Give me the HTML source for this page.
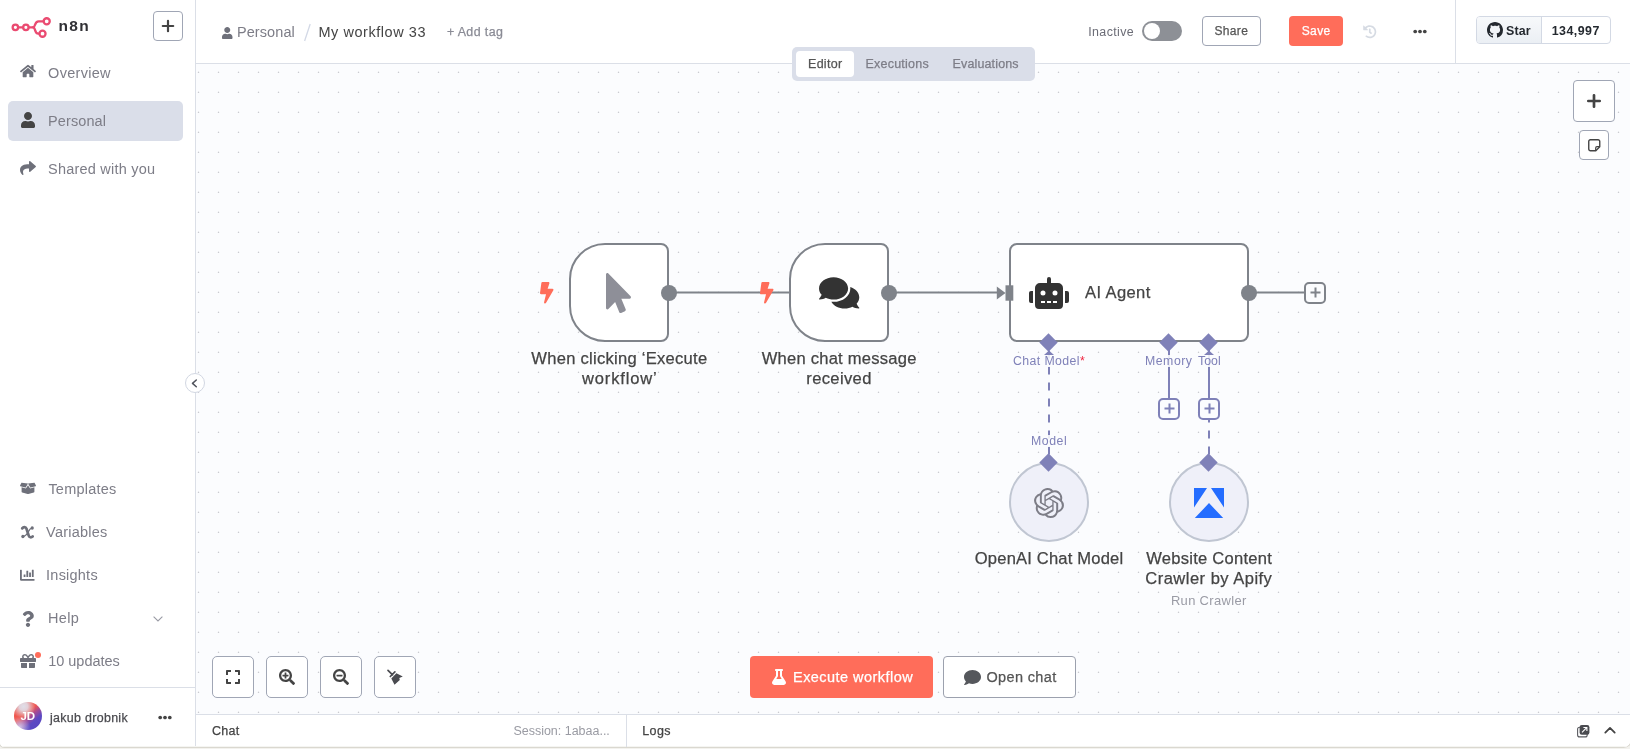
<!DOCTYPE html>
<html><head><meta charset="utf-8">
<style>
*{box-sizing:border-box;margin:0;padding:0}
html,body{width:1630px;height:749px;overflow:hidden;background:#f3f2ee;font-family:"Liberation Sans",sans-serif;}
.abs{position:absolute}
#root{position:absolute;left:0;top:0;width:1630px;height:749px;overflow:hidden;background:#f3f2ee}
#win{will-change:opacity;opacity:.9999;position:absolute;left:0;top:0;width:1630.600px;height:747px;background:#fff;border-radius:0 0 7.500px 4.500px;overflow:hidden;box-shadow:0 0 0 1px rgba(150,148,130,.27)}
#side{position:absolute;left:0;top:0;width:196px;height:747px;background:#fff;border-right:1px solid #dbdfe7}
#head{position:absolute;left:196px;top:0;width:1434px;height:64px;background:#fff;border-bottom:1px solid #dbdfe7}
#canvas{position:absolute;left:196px;top:64px;width:1434px;height:650px;background-color:#fbfcfe;}
#bot{position:absolute;left:196px;top:714px;width:1434px;height:33px;background:#fff;border-top:1px solid #dbdfe7}
.t{position:absolute;white-space:nowrap;line-height:1;}
svg{position:absolute;overflow:visible}

.plus{width:22px;height:22px;border:2px solid #7f81b8;border-radius:5px;background:#fbfcfe}
.dia{width:13px;height:13px;background:#7f81b8;transform:rotate(45deg)}
.lbl{font-size:12.3px;color:#7f81b8;background:rgba(251,252,254,.88)}
.lbl>*{} 
.circ{width:80px;height:80px;border-radius:50%;background:#eff0f9;border:2px solid #c0c6d2}
.cb{top:656px;width:42px;height:42px;border:1px solid #a0a6b5;border-radius:5px;background:#fff}
.m{-webkit-text-stroke:.25px currentColor}
.m2{-webkit-text-stroke:.25px currentColor}
</style></head><body>
<div id="root"><div id="win">
<div id="canvas"><svg style="left:0;top:0" width="1434" height="650"><defs><pattern id="dots" x="1" y="7" width="20" height="20" patternUnits="userSpaceOnUse"><rect x="1" y="0" width="1" height="1" fill="#e9eaee"/><rect x="1" y="1" width="1" height="1" fill="#cbccd2"/><rect x="0" y="1" width="3" height="1" fill="#c4c5cb" opacity=".12"/></pattern></defs><rect width="1434" height="650" fill="url(#dots)"/></svg></div>
<div id="side"></div>
<div id="head"></div>
<div id="bot"></div>

<!-- logo -->
<svg style="left:0;top:0" width="100" height="50" viewBox="0 0 100 50" fill="none" stroke="#ea4b71" stroke-width="2.3" stroke-linecap="round">
 <circle cx="15.4" cy="27.3" r="2.75"/><circle cx="25.9" cy="27.3" r="2.75"/>
 <path d="M18.3 27.3H23M28.8 27.3H33.2"/>
 <path d="M33.2 27.3C35.6 27.3 34.3 21.3 38.6 21.3H43.4"/>
 <path d="M33.2 27.3C35.6 27.3 34.3 33.7 38.2 33.7H39.2"/>
 <circle cx="46.7" cy="21.3" r="3.05"/><circle cx="42.5" cy="33.7" r="3.05"/>
</svg>
<div class="t" id="t_n8n" style="left:58.4px;top:18.4px;font-size:15.5px;font-weight:bold;color:#303035;letter-spacing:1.42px">n8n</div>
<div class="abs" style="left:153px;top:11px;width:30px;height:30px;border:1px solid #a0a6b5;border-radius:4px;background:#fff"></div>
<svg style="left:162px;top:20px" width="12" height="12" viewBox="0 0 12 12"><path d="M6 0.8V11.2M0.8 6H11.2" stroke="#444" stroke-width="2.2" stroke-linecap="round"/></svg>

<!-- overview -->
<svg style="left:20.2px;top:64px" width="16" height="14.2" viewBox="0 0 576 512"><path fill="#6e707a" d="M280.37 148.26L96 300.11V464a16 16 0 0 0 16 16l112.06-.29a16 16 0 0 0 15.92-16V368a16 16 0 0 1 16-16h64a16 16 0 0 1 16 16v95.64a16 16 0 0 0 16 16.05L464 480a16 16 0 0 0 16-16V300L295.67 148.26a12.19 12.19 0 0 0-15.3 0zM571.6 251.47L488 182.56V44.05a12 12 0 0 0-12-12h-56a12 12 0 0 0-12 12v72.61L318.47 43a48 48 0 0 0-61 0L4.34 251.47a12 12 0 0 0-1.6 16.9l25.5 31A12 12 0 0 0 45.15 301l235.22-193.74a12.19 12.19 0 0 1 15.3 0L530.9 301a12 12 0 0 0 16.9-1.6l25.5-31a12 12 0 0 0-1.7-16.93z"/></svg>
<div class="t" id="t_overview" style="left:48.1px;top:65.75px;font-size:14.49px;color:#7d7d87;letter-spacing:0.29px">Overview</div>

<!-- personal -->
<div class="abs" style="left:8px;top:101px;width:175px;height:40px;background:#dadee9;border-radius:5px"></div>
<svg style="left:21.4px;top:112.3px" width="14" height="16" viewBox="0 0 448 512"><path fill="#444" d="M224 256c70.7 0 128-57.3 128-128S294.7 0 224 0 96 57.3 96 128s57.300 128 128 128zm89.600 32h-16.700c-22.200 10.200-46.900 16-72.900 16s-50.600-5.800-72.900-16h-16.700C60.200 288 0 348.200 0 422.400V464c0 26.500 21.500 48 48 48h352c26.500 0 48-21.500 48-48v-41.600c0-74.200-60.200-134.400-134.400-134.400z"/></svg>
<div class="t" id="t_personal" style="left:48.1px;top:113.75px;font-size:14.49px;color:#7d7d87;letter-spacing:0.09px">Personal</div>

<!-- shared -->
<svg style="left:20px;top:160px" width="16" height="16" viewBox="0 0 512 512"><path fill="#6e707a" d="M503.691 189.836L327.687 37.851C312.281 24.546 288 35.347 288 56.015v80.053C127.371 137.907 0 170.100 0 322.326c0 61.441 39.581 122.309 83.333 154.132 13.653 9.931 33.111-2.533 28.077-18.631C66.066 312.814 132.917 274.316 288 272.085V360c0 20.700 24.300 31.453 39.687 18.164l176.004-152c11.071-9.562 11.086-26.753 0-36.328z"/></svg>
<div class="t" id="t_shared" style="left:48.1px;top:161.75px;font-size:14.49px;color:#7d7d87;letter-spacing:0.22px">Shared with you</div>

<!-- templates -->
<svg style="left:20.2px;top:481.7px" width="16" height="12.8" viewBox="0 0 640 512"><path fill="#6e707a" d="M425.700 256c-16.900 0-32.800-9-41.400-23.400L320 126l-64.200 106.600c-8.700 14.500-24.600 23.500-41.500 23.500-4.500 0-9-.6-13.300-1.900L64 215v178c0 14.700 10 27.500 24.200 31l216.200 54.100c10.200 2.500 20.900 2.500 31 0L551.800 424c14.200-3.600 24.200-16.400 24.200-31V215l-137 39.100c-4.300 1.300-8.800 1.900-13.300 1.900zm212.600-112.200L586.800 41c-3.100-6.200-9.800-9.800-16.700-8.900L320 64l91.700 152.100c3.800 6.300 11.400 9.300 18.500 7.300l197.900-56.500c9.900-2.900 14.700-13.900 10.200-23.100zM53.200 41L1.700 143.800c-4.600 9.200.3 20.200 10.100 23l197.900 56.500c7.100 2 14.700-1 18.500-7.300L320 64 69.800 32.100c-6.900-.8-13.500 2.700-16.600 8.900z"/></svg>
<div class="t" id="t_templates" style="left:48.4px;top:482.25px;font-size:14.49px;color:#7d7d87;letter-spacing:0.24px">Templates</div>

<!-- variables -->
<svg style="left:20.8px;top:526px" width="13" height="13" viewBox="0 0 13 13" fill="none" stroke="#6e707a" stroke-linecap="round"><path d="M1.2 2.4C2.4 0.7 4.7 0.6 5.500 2.800L7.700 9.700C8.300 11.600 10.300 11.700 11.700 10.500" stroke-width="2.700"/><path d="M10.800 2.200C9 2.400 8.200 4.200 7 6.300C5.600 8.800 4 10.400 2 10.500" stroke-width="1.300"/><circle cx="11.2" cy="2" r="1.650" fill="#6e707a" stroke="none"/><circle cx="1.9" cy="10.500" r="1.650" fill="#6e707a" stroke="none"/></svg>
<div class="t" id="t_variables" style="left:46.1px;top:525.25px;font-size:14.49px;color:#7d7d87;letter-spacing:0.22px">Variables</div>

<!-- insights -->
<svg style="left:19.8px;top:568px" width="14.6" height="14.6" viewBox="0 0 512 512"><path fill="#6e707a" d="M332.800 320h38.400c6.400 0 12.800-6.400 12.800-12.800V172.800c0-6.400-6.400-12.800-12.800-12.800h-38.400c-6.400 0-12.800 6.400-12.800 12.800v134.400c0 6.400 6.400 12.800 12.800 12.800zm96 0h38.400c6.400 0 12.800-6.400 12.800-12.800V76.800c0-6.400-6.400-12.800-12.800-12.800h-38.400c-6.400 0-12.800 6.400-12.800 12.800v230.400c0 6.400 6.400 12.800 12.800 12.800zm-288 0h38.400c6.400 0 12.800-6.400 12.800-12.800v-70.400c0-6.400-6.400-12.800-12.800-12.800h-38.400c-6.400 0-12.800 6.400-12.800 12.800v70.400c0 6.400 6.400 12.800 12.800 12.800zm96 0h38.400c6.400 0 12.800-6.400 12.800-12.800V108.800c0-6.400-6.400-12.800-12.800-12.800h-38.400c-6.400 0-12.800 6.400-12.800 12.800v198.400c0 6.400 6.400 12.800 12.800 12.800zM496 384H64V80c0-8.840-7.160-16-16-16H16C7.160 64 0 71.160 0 80v336c0 17.670 14.330 32 32 32h464c8.840 0 16-7.160 16-16v-32c0-8.840-7.160-16-16-16z"/></svg>
<div class="t" id="t_insights" style="left:46.1px;top:567.75px;font-size:14.49px;color:#7d7d87;letter-spacing:0.23px">Insights</div>

<!-- help -->
<svg style="left:22.2px;top:610.6px" width="12" height="16" viewBox="0 0 384 512"><path fill="#6e707a" d="M202.021 0C122.202 0 70.503 32.703 29.914 91.026c-7.363 10.580-5.093 25.086 5.178 32.874l43.138 32.709c10.373 7.865 25.132 6.026 33.253-4.148 25.049-31.381 43.630-49.449 82.757-49.449 30.764 0 68.816 19.799 68.816 49.631 0 22.552-18.617 34.134-48.993 51.164-35.423 19.860-82.299 44.576-82.299 106.405V320c0 13.255 10.745 24 24 24h72.471c13.255 0 24-10.745 24-24v-5.773c0-42.860 125.268-44.645 125.268-160.627C377.504 66.256 286.902 0 202.021 0zM192 373.459c-38.196 0-69.271 31.075-69.271 69.271 0 38.195 31.075 69.270 69.271 69.270s69.271-31.075 69.271-69.271-31.075-69.270-69.271-69.270z"/></svg>
<div class="t" id="t_help" style="left:48.1px;top:610.75px;font-size:14.49px;color:#7d7d87;letter-spacing:0.30px">Help</div>
<svg style="left:152.5px;top:615.5px" width="10" height="6" viewBox="0 0 10 6"><path d="M0.6 0.6L5 5L9.4 0.6" fill="none" stroke="#9a9ba5" stroke-width="1.1"/></svg>

<!-- updates -->
<svg style="left:20px;top:653.3px" width="16" height="16" viewBox="0 0 512 512"><path fill="#6e707a" d="M32 448c0 17.700 14.300 32 32 32h160V320H32v128zm256 32h160c17.700 0 32-14.300 32-32V320H288v160zm192-320h-42.100c6.200-12.100 10.100-25.500 10.100-40 0-48.500-39.500-88-88-88-41.600 0-68.500 21.300-103 68.300-34.500-47-61.400-68.300-103-68.300-48.500 0-88 39.500-88 88 0 14.500 3.800 27.900 10.100 40H32c-17.700 0-32 14.300-32 32v80c0 8.800 7.200 16 16 16h480c8.800 0 16-7.200 16-16v-80c0-17.700-14.300-32-32-32zm-326.100 0c-22.100 0-40-17.900-40-40s17.900-40 40-40c19.900 0 34.600 3.300 86.100 80h-86.100zm206.100 0h-86.100c51.400-76.500 65.700-80 86.100-80 22.100 0 40 17.900 40 40s-17.900 40-40 40z"/></svg>
<div class="abs" style="left:34.6px;top:652px;width:6px;height:6px;border-radius:50%;background:#ff6d5a"></div>
<div class="t" id="t_updates" style="left:48.2px;top:653.75px;font-size:14.49px;color:#7d7d87;letter-spacing:-0.01px">10 updates</div>

<!-- user -->
<div class="abs" style="left:0;top:687px;width:195px;height:1px;background:#dbdfe7"></div>
<div class="abs" style="left:14px;top:702px;width:28px;height:28px;border-radius:50%;background:
 radial-gradient(circle at 34% 16%,rgba(224,222,232,1) 0,rgba(224,222,232,.9) 14%,rgba(224,222,232,0) 40%),
 radial-gradient(circle at 20% 90%,rgba(214,204,236,.95) 0,rgba(214,204,236,0) 32%),
 linear-gradient(140deg,#f25a4e 0%,#f0564f 42%,#a34a96 56%,#5c49c3 70%,#5745bf 100%)"></div>
<div class="t" id="t_jd" style="left:20.4px;top:711.00px;font-size:11.5px;font-weight:bold;color:#fff">JD</div>
<div class="t m" id="t_user" style="left:49.9px;top:712.29px;font-size:12.42px;color:#4a4a4f;letter-spacing:0.33px">jakub drobnik</div>
<svg style="left:158px;top:714.5px" width="14" height="5" viewBox="0 0 14 5"><circle cx="2.2" cy="2.5" r="1.85" fill="#444"/><circle cx="7" cy="2.5" r="1.85" fill="#444"/><circle cx="11.8" cy="2.5" r="1.85" fill="#444"/></svg>

<!-- collapse -->
<div class="abs" style="left:185px;top:373px;width:20px;height:20px;border-radius:50%;background:#fff;border:1px solid #d2d7e2"></div>
<svg style="left:191px;top:378.5px" width="7" height="9" viewBox="0 0 7 9"><path d="M5.3 1L1.5 4.4L5.3 7.800" fill="none" stroke="#50535c" stroke-width="1.5" stroke-linecap="round" stroke-linejoin="round"/></svg>


<div class="abs" style="left:0;top:746px;width:1631px;height:1px;background:#f5f5f2"></div>
<!-- breadcrumbs -->
<svg style="left:221.7px;top:26.5px" width="10.5" height="12" viewBox="0 0 448 512"><path fill="#6e707a" d="M224 256c70.700 0 128-57.300 128-128S294.700 0 224 0 96 57.300 96 128s57.300 128 128 128zm89.600 32h-16.700c-22.200 10.200-46.900 16-72.900 16s-50.600-5.800-72.900-16h-16.700C60.200 288 0 348.200 0 422.400V464c0 26.500 21.500 48 48 48h352c26.500 0 48-21.500 48-48v-41.600c0-74.200-60.200-134.400-134.400-134.400z"/></svg>
<div class="t" id="t_bc1" style="left:236.9px;top:24.75px;font-size:14.49px;color:#7d7d87;letter-spacing:0.10px">Personal</div>
<svg style="left:303px;top:23px" width="9" height="19" viewBox="0 0 9 19"><path d="M7.2 1L1.6 18" stroke="#d3d9e6" stroke-width="1.3" fill="none"/></svg>
<div class="t" id="t_bc2" style="left:318.5px;top:24.75px;font-size:14.49px;color:#444;letter-spacing:0.55px">My workflow 33</div>
<div class="t m" id="t_addtag" style="left:446.9px;top:25.79px;font-size:12.42px;color:#8a8b95;letter-spacing:0.40px">+ Add tag</div>

<!-- tabs -->
<div class="abs" style="left:792px;top:47px;width:243px;height:34px;background:#dadee9;border-radius:5px"></div>
<div class="abs" style="left:796px;top:51px;width:58px;height:26px;background:#fff;border-radius:4px"></div>
<div class="t m" id="t_tab1" style="left:808.0px;top:57.5px;font-size:12.5px;color:#555;letter-spacing:0.29px">Editor</div>
<div class="t m" id="t_tab2" style="left:865.4px;top:57.5px;font-size:12.5px;color:#7d7d87;letter-spacing:0.24px">Executions</div>
<div class="t m" id="t_tab3" style="left:952.5px;top:57.5px;font-size:12.5px;color:#7d7d87;letter-spacing:0.15px">Evaluations</div>

<!-- right controls -->
<div class="t" id="t_inactive" style="left:1088.2px;top:25.99px;font-size:12.42px;color:#6b6c76;letter-spacing:0.40px">Inactive</div>
<div class="abs" style="left:1142px;top:21px;width:40px;height:20px;border-radius:10px;background:#8d9096"></div>
<div class="abs" style="left:1144px;top:23px;width:16px;height:16px;border-radius:50%;background:#fff"></div>
<div class="abs" style="left:1202px;top:16px;width:59px;height:30px;border:1px solid #a0a6b5;border-radius:4px;background:#fff"></div>
<div class="t m" id="t_share" style="left:1214.4px;top:25px;font-size:12px;color:#555;letter-spacing:0.37px">Share</div>
<div class="abs" style="left:1289px;top:16px;width:54px;height:30px;border-radius:4px;background:#ff6d5a"></div>
<div class="t m" id="t_save" style="left:1301.7px;top:25px;font-size:12px;color:#fff;letter-spacing:0.38px">Save</div>
<svg style="left:1363px;top:24.5px" width="13.5" height="13.5" viewBox="0 0 512 512"><path fill="#d6dbe3" d="M504 255.531c.253 136.640-111.180 248.372-247.820 248.468-59.015.042-113.223-20.530-155.822-54.911-11.077-8.940-11.905-25.541-1.839-35.607l11.267-11.267c8.609-8.609 22.353-9.551 31.891-1.984C173.062 425.135 212.781 440 256 440c101.705 0 184-82.311 184-184 0-101.705-82.311-184-184-184-48.814 0-93.149 18.969-126.068 49.932l50.754 50.754c10.080 10.080 2.941 27.314-11.313 27.314H24c-8.837 0-16-7.163-16-16V38.627c0-14.254 17.234-21.393 27.314-11.314l49.372 49.372C129.209 34.136 189.552 8 256 8c136.810 0 247.747 110.780 248 247.531zm-180.912 78.784l9.823-12.630c8.138-10.463 6.253-25.542-4.210-33.679L288 256.349V152c0-13.255-10.745-24-24-24h-16c-13.255 0-24 10.745-24 24v135.651l65.409 50.874c10.463 8.137 25.541 6.253 33.679-4.210z"/></svg>
<svg style="left:1413px;top:28.8px" width="14" height="5" viewBox="0 0 14 5"><circle cx="2.2" cy="2.5" r="1.85" fill="#444"/><circle cx="7" cy="2.5" r="1.85" fill="#444"/><circle cx="11.8" cy="2.5" r="1.85" fill="#444"/></svg>
<div class="abs" style="left:1455px;top:0;width:1px;height:63px;background:#dbdfe7"></div>

<!-- github -->
<div class="abs" style="left:1476px;top:16px;width:135px;height:28px;border:1px solid #d3d9e4;border-radius:4px;background:#fff;overflow:hidden"><div style="position:absolute;left:0;top:0;width:65px;height:26px;background:linear-gradient(#f7f9fb,#ebeff4);border-right:1px solid #d3d9e4"></div></div>
<svg style="left:1486.8px;top:22.1px" width="16" height="16" viewBox="0 0 16 16"><path fill="#24292f" d="M8 0C3.580 0 0 3.580 0 8c0 3.540 2.290 6.530 5.470 7.590.4.070.55-.17.55-.38 0-.19-.01-.82-.01-1.490-2.010.37-2.530-.49-2.690-.94-.09-.23-.48-.94-.82-1.130-.28-.15-.68-.52-.01-.53.63-.01 1.080.58 1.230.82.720 1.210 1.870.87 2.330.66.070-.52.280-.87.510-1.070-1.780-.2-3.640-.89-3.640-3.950 0-.87.310-1.590.82-2.150-.08-.2-.36-1.020.08-2.120 0 0 .67-.21 2.200.82.640-.18 1.320-.27 2-.27.680 0 1.360.09 2 .27 1.530-1.040 2.200-.82 2.200-.82.440 1.100.16 1.920.08 2.120.51.560.82 1.270.82 2.150 0 3.070-1.870 3.750-3.650 3.950.29.250.54.730.54 1.480 0 1.070-.01 1.930-.01 2.200 0 .21.150.46.550.38A8.013 8.013 0 0016 8c0-4.420-3.580-8-8-8z"/></svg>
<div class="t" id="t_star" style="left:1506.1px;top:24.59px;font-size:12.42px;font-weight:bold;color:#24292f;letter-spacing:0.15px">Star</div>
<div class="t" id="t_count" style="left:1551.7px;top:24.59px;font-size:12.42px;color:#24292f;font-weight:bold;letter-spacing:0.47px">134,997</div>


<svg style="left:0;top:0" width="1630" height="749" viewBox="0 0 1630 749">
 <!-- main edges -->
 <g stroke="#7f838a" stroke-width="2" fill="none">
  <path d="M669 292.5H790"/><path d="M889 292.5H1000"/><path d="M1249 292.5H1305"/>
 </g>
 <!-- ai edges -->
 <g stroke="#7f81b8" stroke-width="2" fill="none">
  <path d="M1049 350.5V454.500" stroke-dasharray="8 8"/>
  <path d="M1169 350V398"/><path d="M1209 350V398"/>
  <path d="M1209 414.5V454.500" stroke-dasharray="8 8"/>
 </g>
 <path d="M1049 350.500L1054 355H1044Z" fill="#7f81b8"/><path d="M1209 350.500L1214 355H1204Z" fill="#7f81b8"/>
</svg>

<!-- trigger 1 -->
<div class="abs" style="left:569.2px;top:242.7px;width:100px;height:99.6px;border:2px solid #7f838a;border-radius:36px 8px 8px 36px;background:#fff"></div>
<svg style="left:540px;top:281.8px" width="13.5" height="21.6" viewBox="0 0 320 512"><path fill="#ff6d5a" d="M296 160H180.6l42.600-129.800C227.200 15 215.700 0 200 0H56C44 0 33.800 8.900 32.200 20.800l-32 240C-1.700 275.200 9.500 288 24 288h118.700L96.600 482.500c-3.600 15.200 8 29.500 23.300 29.500 8.400 0 16.400-4.400 20.800-12l176-304c9.300-15.900-2.200-36-20.700-36z"/></svg>
<svg style="left:606.3px;top:272.5px" width="25" height="40" viewBox="0 0 320 512"><path fill="#8e8f98" d="M302.189 329.126H196.105l55.831 135.993c3.889 9.428-.555 19.999-9.444 23.999l-49.165 21.427c-9.165 4-19.443-.571-23.332-9.714l-53.053-129.136-86.664 89.138C18.729 472.710 0 463.554 0 447.977V18.299C0 1.899 19.921-6.096 30.277 5.443l284.412 292.542c11.472 11.179 3.007 31.141-12.500 31.141z"/></svg>
<div class="abs" style="left:661px;top:284.5px;width:16px;height:16px;border-radius:50%;background:#7f838a"></div>
<div class="t m2" id="t_n1a" style="left:531.3px;top:350.72px;font-size:16.56px;color:#444;letter-spacing:0.27px">When clicking ‘Execute</div>
<div class="t m2" id="t_n1b" style="left:582.0px;top:370.72px;font-size:16.56px;color:#444;letter-spacing:0.83px">workflow’</div>

<!-- trigger 2 -->
<div class="abs" style="left:789.2px;top:242.7px;width:100px;height:99.6px;border:2px solid #7f838a;border-radius:36px 8px 8px 36px;background:#fff"></div>
<svg style="left:760.3px;top:281.8px" width="13.5" height="21.6" viewBox="0 0 320 512"><path fill="#ff6d5a" d="M296 160H180.6l42.600-129.800C227.200 15 215.700 0 200 0H56C44 0 33.800 8.900 32.200 20.800l-32 240C-1.700 275.200 9.500 288 24 288h118.700L96.600 482.500c-3.600 15.200 8 29.500 23.300 29.500 8.400 0 16.400-4.400 20.800-12l176-304c9.300-15.900-2.200-36-20.700-36z"/></svg>
<svg style="left:818.8px;top:274.500px" width="40.300" height="35.800" viewBox="0 0 576 512"><path fill="#333" d="M416 192c0-88.400-93.100-160-208-160S0 103.600 0 192c0 34.300 14.100 65.900 38 92-13.400 30.200-35.500 54.200-35.800 54.500-2.200 2.300-2.800 5.700-1.500 8.700S4.800 352 8 352c36.600 0 66.900-12.300 88.700-25 32.200 15.700 70.300 25 111.300 25 114.900 0 208-71.600 208-160zm122 220c23.900-26 38-57.700 38-92 0-66.900-53.500-124.200-129.300-148.100.9 6.600 1.300 13.300 1.300 20.100 0 105.900-107.700 192-240 192-10.800 0-21.300-.8-31.700-1.900C207.800 439.600 281.800 480 368 480c41 0 79.100-9.200 111.300-25 21.800 12.700 52.100 25 88.700 25 3.200 0 6.100-1.900 7.300-4.800 1.300-2.900.7-6.300-1.500-8.700-.3-.3-22.400-24.200-35.800-54.500z"/></svg>
<div class="abs" style="left:881px;top:284.5px;width:16px;height:16px;border-radius:50%;background:#7f838a"></div>
<div class="t m2" id="t_n2a" style="left:761.7px;top:350.72px;font-size:16.56px;color:#444;letter-spacing:0.24px">When chat message</div>
<div class="t m2" id="t_n2b" style="left:806.3px;top:370.72px;font-size:16.56px;color:#444;letter-spacing:0.36px">received</div>

<!-- AI agent -->
<div class="abs" style="left:1009px;top:242.7px;width:240px;height:99.6px;border:2px solid #7f838a;border-radius:8px;background:#fff"></div>
<svg style="left:997.5px;top:284.6px" width="16" height="16" viewBox="0 0 16 16"><path d="M-1.200 1.400L7.500 8L-1.200 14.600Z" fill="#7f838a"/><rect x="7.500" y="0.300" width="7.800" height="15.400" fill="#7f838a"/></svg>
<svg style="left:1028.9px;top:276.700px" width="40" height="32" viewBox="0 0 640 512"><path fill="#333" d="M32,224H64V416H32A31.963,31.963,0,0,1,0,384V256A31.963,31.963,0,0,1,32,224Zm512-48V448a64.063,64.063,0,0,1-64,64H160a64.063,64.063,0,0,1-64-64V176a79.974,79.974,0,0,1,80-80H288V32a32,32,0,0,1,64,0V96H464A79.974,79.974,0,0,1,544,176ZM264,256a40,40,0,1,0-40,40A39.997,39.997,0,0,0,264,256Zm-8,128H192v32h64Zm96,0H288v32h64ZM456,256a40,40,0,1,0-40,40A39.997,39.997,0,0,0,456,256Zm-8,128H384v32h64ZM640,256V384a31.963,31.963,0,0,1-32,32H576V224h32A31.963,31.963,0,0,1,640,256Z"/></svg>
<div class="t m2" id="t_agent" style="left:1085.0px;top:284.72px;font-size:16.56px;color:#444;letter-spacing:0.39px">AI Agent</div>
<div class="abs" style="left:1241px;top:284.5px;width:16px;height:16px;border-radius:50%;background:#7f838a"></div>
<div class="abs plus" style="left:1304px;top:281.5px;border-color:#7f838a"></div>
<svg style="left:1309.5px;top:287px" width="11" height="11" viewBox="0 0 11 11"><path d="M5.500 0.500V10.500M0.500 5.500H10.500" stroke="#7f838a" stroke-width="2"/></svg>

<!-- diamonds -->
<div class="abs dia" style="left:1042.4px;top:336.0px"></div>
<div class="abs dia" style="left:1162.4px;top:336.0px"></div>
<div class="abs dia" style="left:1202.4px;top:336.0px"></div>

<!-- handle labels -->
<div class="t lbl" id="t_l1" style="left:1013.1px;top:355px;letter-spacing:0.39px">Chat Model<span style="color:#f0243f">*</span></div>
<div class="t lbl" id="t_l2" style="left:1145.0px;top:355px;letter-spacing:0.52px">Memory</div>
<div class="t lbl" id="t_l3" style="left:1197.9px;top:355px;letter-spacing:0.11px">Tool</div>
<div class="t lbl" id="t_l4" style="left:1031.0px;top:435px;letter-spacing:0.53px">Model</div>

<!-- plus boxes -->
<div class="abs plus" style="left:1158px;top:397.5px"></div>
<svg style="left:1163.5px;top:403px" width="11" height="11" viewBox="0 0 11 11"><path d="M5.500 0.500V10.500M0.500 5.500H10.500" stroke="#7f81b8" stroke-width="2"/></svg>
<div class="abs plus" style="left:1198px;top:397.5px"></div>
<svg style="left:1203.5px;top:403px" width="11" height="11" viewBox="0 0 11 11"><path d="M5.500 0.500V10.500M0.500 5.500H10.500" stroke="#7f81b8" stroke-width="2"/></svg>

<!-- circles -->
<div class="abs circ" style="left:1009px;top:462px"></div>
<div class="abs circ" style="left:1169px;top:462px"></div>
<div class="abs dia" style="left:1042.4px;top:456.0px"></div>
<div class="abs dia" style="left:1202.4px;top:456.0px"></div>
<svg style="left:1034px;top:487.500px" width="30" height="30" viewBox="0 0 24 24"><path fill="#7d7d87" d="M22.282 9.821a5.985 5.985 0 0 0-.516-4.910 6.046 6.046 0 0 0-6.510-2.900A6.065 6.065 0 0 0 4.981 4.182a5.985 5.985 0 0 0-3.998 2.900 6.046 6.046 0 0 0 .743 7.097 5.980 5.980 0 0 0 .510 4.911 6.051 6.051 0 0 0 6.515 2.900A5.985 5.985 0 0 0 13.260 24a6.056 6.056 0 0 0 5.772-4.206 5.990 5.990 0 0 0 3.997-2.900 6.056 6.056 0 0 0-.747-7.073zM13.260 22.430a4.476 4.476 0 0 1-2.876-1.040l.141-.081 4.779-2.758a.795.795 0 0 0 .392-.681v-6.737l2.020 1.168a.071.071 0 0 1 .038.052v5.583a4.504 4.504 0 0 1-4.494 4.494zM3.600 18.304a4.470 4.470 0 0 1-.535-3.014l.142.085 4.783 2.759a.771.771 0 0 0 .780 0l5.843-3.369v2.332a.080.080 0 0 1-.033.062L9.740 19.950a4.500 4.500 0 0 1-6.140-1.646zM2.340 7.896a4.485 4.485 0 0 1 2.366-1.973V11.600a.766.766 0 0 0 .388.676l5.815 3.355-2.020 1.168a.076.076 0 0 1-.071 0l-4.830-2.786A4.504 4.504 0 0 1 2.340 7.872zm16.597 3.855l-5.833-3.387L15.119 7.200a.076.076 0 0 1 .071 0l4.830 2.791a4.494 4.494 0 0 1-.676 8.105v-5.678a.790.790 0 0 0-.407-.667zm2.010-3.023l-.141-.085-4.774-2.782a.776.776 0 0 0-.785 0L9.409 9.230V6.897a.066.066 0 0 1 .028-.061l4.830-2.787a4.500 4.500 0 0 1 6.680 4.660zm-12.640 4.135l-2.020-1.164a.080.080 0 0 1-.038-.057V6.075a4.500 4.500 0 0 1 7.375-3.453l-.142.080L8.704 5.460a.795.795 0 0 0-.393.681zm1.097-2.365l2.602-1.500 2.607 1.500v2.999l-2.597 1.500-2.607-1.500z"/></svg>
<svg style="left:1194px;top:487.500px" width="30" height="30" viewBox="0 0 30 30"><path fill="#246dff" d="M0 0H13L0 19.400ZM17 0H30V19.400ZM15 15.100L29.200 30H0.800Z"/></svg>

<div class="t m2" id="t_n3" style="left:974.8px;top:550.72px;font-size:16.56px;color:#444;letter-spacing:0.19px">OpenAI Chat Model</div>
<div class="t m2" id="t_n4a" style="left:1146.3px;top:550.72px;font-size:16.56px;color:#444;letter-spacing:0.25px">Website Content</div>
<div class="t m2" id="t_n4b" style="left:1145.3px;top:570.72px;font-size:16.56px;color:#444;letter-spacing:0.47px">Crawler by Apify</div>
<div class="t" id="t_n4c" style="left:1170.9px;top:595.38px;font-size:12.94px;color:#9a9ba5;letter-spacing:0.35px">Run Crawler</div>

<!-- right buttons -->
<div class="abs" style="left:1573px;top:80px;width:42px;height:42px;border:1px solid #a0a6b5;border-radius:4px;background:#fff"></div>
<svg style="left:1587px;top:94px" width="14" height="14" viewBox="0 0 14 14"><path d="M7 1.300V12.700M1.300 7H12.700" stroke="#444" stroke-width="2.700" stroke-linecap="round"/></svg>
<div class="abs" style="left:1579px;top:130px;width:30px;height:30px;border:1px solid #a0a6b5;border-radius:4px;background:#fff"></div>
<svg style="left:1587.800px;top:138.800px" width="12.500" height="12.500" viewBox="0 0 12.500 12.500"><path d="M2.400 0.750H10.100A1.650 1.650 0 0 1 11.750 2.400V7.800L7.800 11.750H2.400A1.650 1.650 0 0 1 0.750 10.100V2.400A1.650 1.650 0 0 1 2.400 0.750Z" fill="none" stroke="#444" stroke-width="1.400" stroke-linejoin="round"/><path d="M11.600 7.700H9A1.300 1.300 0 0 0 7.700 9V11.600" fill="none" stroke="#444" stroke-width="1.200"/></svg>

<!-- bottom-left buttons -->
<div class="abs cb" style="left:212px"></div><div class="abs cb" style="left:266px"></div><div class="abs cb" style="left:320px"></div><div class="abs cb" style="left:374px"></div>
<svg style="left:226px;top:668.800px" width="14" height="16" viewBox="0 0 448 512"><path fill="#444" d="M0 180V56c0-13.300 10.700-24 24-24h124c6.600 0 12 5.400 12 12v40c0 6.600-5.400 12-12 12H64v84c0 6.600-5.400 12-12 12H12c-6.600 0-12-5.400-12-12zM288 44v40c0 6.600 5.400 12 12 12h84v84c0 6.600 5.400 12 12 12h40c6.600 0 12-5.400 12-12V56c0-13.300-10.700-24-24-24H300c-6.600 0-12 5.400-12 12zm148 276h-40c-6.600 0-12 5.400-12 12v84h-84c-6.600 0-12 5.400-12 12v40c0 6.600 5.400 12 12 12h124c13.300 0 24-10.700 24-24V332c0-6.600-5.400-12-12-12zM160 468v-40c0-6.600-5.400-12-12-12H64v-84c0-6.600-5.400-12-12-12H12c-6.600 0-12 5.400-12 12v124c0 13.300 10.700 24 24 24h124c6.600 0 12-5.400 12-12z"/></svg>
<svg style="left:279px;top:668.900px" width="16" height="16" viewBox="0 0 512 512"><path fill="#444" d="M304 192v32c0 6.600-5.400 12-12 12h-56v56c0 6.600-5.400 12-12 12h-32c-6.600 0-12-5.400-12-12v-56h-56c-6.600 0-12-5.400-12-12v-32c0-6.600 5.400-12 12-12h56v-56c0-6.600 5.400-12 12-12h32c6.600 0 12 5.400 12 12v56h56c6.600 0 12 5.400 12 12zm201 284.700L476.700 505c-9.400 9.400-24.600 9.400-33.900 0L343 405.300c-4.500-4.500-7-10.600-7-17V372c-35.300 27.600-79.700 44-128 44C93.100 416 0 322.900 0 208S93.100 0 208 0s208 93.100 208 208c0 48.300-16.400 92.700-44 128h16.300c6.400 0 12.500 2.500 17 7l99.700 99.700c9.300 9.400 9.300 24.600 0 34zM344 208c0-75.200-60.800-136-136-136S72 132.800 72 208s60.800 136 136 136 136-60.800 136-136z"/></svg>
<svg style="left:333px;top:668.900px" width="16" height="16" viewBox="0 0 512 512"><path fill="#444" d="M304 192v32c0 6.600-5.400 12-12 12H124c-6.600 0-12-5.400-12-12v-32c0-6.600 5.400-12 12-12h168c6.600 0 12 5.400 12 12zm201 284.700L476.700 505c-9.400 9.400-24.600 9.400-33.900 0L343 405.300c-4.500-4.500-7-10.600-7-17V372c-35.300 27.600-79.700 44-128 44C93.100 416 0 322.900 0 208S93.100 0 208 0s208 93.100 208 208c0 48.300-16.400 92.700-44 128h16.300c6.400 0 12.500 2.500 17 7l99.700 99.700c9.300 9.400 9.300 24.600 0 34zM344 208c0-75.200-60.800-136-136-136S72 132.800 72 208s60.800 136 136 136 136-60.800 136-136z"/></svg>
<svg style="left:387px;top:668.800px" width="16" height="16" viewBox="0 0 16 16"><path fill="none" stroke="#4a4b50" stroke-width="1.700" stroke-linecap="round" d="M1 1.300L5.600 5.900M3.300 7.500L7.900 2.900"/><path fill="#4a4b50" d="M4.300 9.500L9.400 4.300L15.800 7.500L12.300 8.900L12.800 11L7.500 15.800Z"/></svg>

<!-- execute / chat -->
<div class="abs" style="left:750px;top:656px;width:183px;height:42px;border-radius:4px;background:#ff6d5a"></div>
<svg style="left:772px;top:669px" width="14" height="16" viewBox="0 0 448 512"><path fill="#fff" d="M437.200 403.500L320 215V64h8c13.300 0 24-10.700 24-24V24c0-13.300-10.700-24-24-24H120c-13.300 0-24 10.700-24 24v16c0 13.300 10.700 24 24 24h8v151L10.800 403.500C-18.500 450.600 15.300 512 70.900 512h306.200c55.700 0 89.400-61.500 60.100-108.500zM137.900 320l48.200-77.600c3.700-5.200 5.800-11.600 5.800-18.400V64h64v160c0 6.900 2.200 13.200 5.800 18.400l48.200 77.600h-172z"/></svg>
<div class="t m" id="t_exec" style="left:793.0px;top:669.75px;font-size:14.49px;color:#fff;letter-spacing:0.47px">Execute workflow</div>
<div class="abs" style="left:943px;top:656px;width:133px;height:42px;border-radius:4px;background:#fff;border:1px solid #9ca1ae"></div>
<svg style="left:964px;top:668.500px" width="17" height="17" viewBox="0 0 512 512"><path fill="#55575c" d="M256 32C114.600 32 0 125.100 0 240c0 49.600 21.400 95 57 130.700C44.500 421.100 2.700 466 2.200 466.500c-2.200 2.300-2.800 5.700-1.500 8.700S4.800 480 8 480c66.300 0 116-31.800 140.600-51.400 32.700 12.300 69 19.400 107.400 19.400 141.400 0 256-93.100 256-208S397.400 32 256 32z"/></svg>
<div class="t m" id="t_chatbtn" style="left:986.4px;top:669.75px;font-size:14.49px;color:#555;letter-spacing:0.37px">Open chat</div>


<div class="t m" id="t_chat" style="left:212.0px;top:724.7px;font-size:12.500px;color:#444;letter-spacing:0.30px">Chat</div>
<div class="t" id="t_session" style="left:513.4px;top:724.9px;font-size:12.500px;color:#9a9ba3;letter-spacing:-0.01px">Session: 1abaa...</div>
<div class="abs" style="left:626px;top:715px;width:1px;height:32px;background:#dbdfe7"></div>
<div class="t m" id="t_logs" style="left:642.3px;top:724.9px;font-size:12.500px;color:#444;letter-spacing:0.36px">Logs</div>
<svg style="left:1577px;top:724.6px" width="12.500" height="12.500" viewBox="0 0 12.500 12.500"><rect x="0.600" y="2.200" width="9.600" height="9.700" rx="2" fill="none" stroke="#5a5b60" stroke-width="1.100"/><rect x="2.600" y="0" width="9.800" height="9.800" rx="2.200" fill="#4a4b50"/><path d="M5 7.400L9.700 2.700M6.400 2.500H9.900V6" stroke="#fff" stroke-width="1.100" fill="none"/></svg>
<svg style="left:1603.700px;top:726.3px" width="13" height="8" viewBox="0 0 13 8"><path d="M1.300 6.600L6 1.900L10.700 6.600" fill="none" stroke="#444" stroke-width="1.800" stroke-linecap="round" stroke-linejoin="round"/></svg>

</div></div>
</body></html>
